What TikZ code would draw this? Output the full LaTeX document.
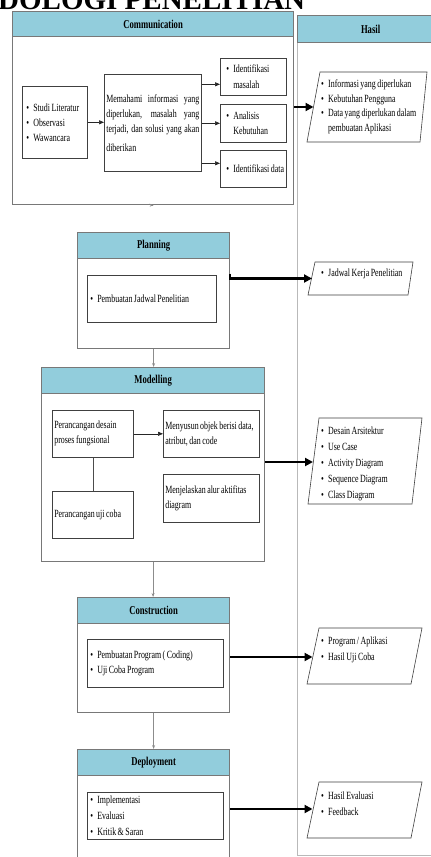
\documentclass[tikz,border=0pt]{standalone}
\usepackage{fontspec}
\setmainfont{Liberation Serif}[FakeStretch=0.72, WordSpace=0.75]
\newfontfamily\titlefont{Liberation Serif}
\usetikzlibrary{arrows.meta}
\definecolor{hdr}{RGB}{146,205,220}
\definecolor{bord}{RGB}{120,120,120}
\definecolor{hbord}{RGB}{185,185,185}
\newcommand\bl{\makebox[7pt][l]{\textbullet}}
\newcommand\ind{\hspace*{7pt}}
\begin{document}
\begin{tikzpicture}[x=1pt,y=-1pt,
  every node/.style={font=\fontsize{11}{15}\selectfont},
  phase/.style={draw=bord, line width=1.2pt, fill=white, anchor=north west, inner sep=0pt},
  head/.style={draw=bord, line width=1.2pt, fill=hdr, anchor=north west, inner sep=0pt, font=\fontsize{12}{13}\selectfont\bfseries},
  ibox/.style={draw=black!75, line width=0.6pt, anchor=north west, align=flush left, inner ysep=0pt},
  ptext/.style={anchor=west, align=flush left, inner sep=0pt, font=\fontsize{11}{14.5}\selectfont},
  pshape/.style={draw=black!75, line width=0.6pt},
  sarr/.style={draw=black!85, line width=0.6pt, -{Triangle[length=5pt,width=4pt]}},
  sline/.style={draw=black!70, line width=0.6pt},
  garr/.style={draw=black!45, line width=0.9pt, -{Stealth[length=4pt,width=3pt]}},
  tarr/.style={draw=black, line width=2.3pt, -{Triangle[length=8pt,width=8pt]}}
]
\path[use as bounding box] (0,0) rectangle (431,857);
\clip (0,0) rectangle (431,857);

% title (cropped at the top, as in the reference)
\node[anchor=base west, inner sep=0pt, font=\titlefont\fontsize{29}{30}\selectfont\bfseries] (title) at (-2,9.5) {DOLOGI PENELITIAN};

% Hasil column
\node[phase, draw=hbord, minimum width=146, minimum height=840] (hasil) at (297,15) {};
\node[head, minimum width=146, minimum height=27] (hasilh) at (297,15) {Hasil};

% Communication
\node[phase, minimum width=281, minimum height=193] (comm) at (12,11) {};
\node[head, minimum width=281, minimum height=25] (commh) at (12,11) {Communication};
\node[ibox, minimum width=65, minimum height=72, text width=57, inner xsep=4] (lb) at (22,86)
  {\bl Studi Literatur\\\bl Observasi\\\bl Wawancara};
\node[ibox, minimum width=97, minimum height=97, text width=93, inner xsep=2] (mb) at (104,74)
  {\makebox[93pt][s]{Memahami informasi yang}\\\makebox[93pt][s]{diperlukan, masalah yang}\\\makebox[93pt][s]{terjadi, dan solusi yang akan}\\[4pt]diberikan};
\node[ibox, minimum width=66, minimum height=37, text width=54, inner xsep=6] (r1) at (220,58)
  {\bl Identifikasi\\[1pt]\ind masalah};
\node[ibox, minimum width=66, minimum height=38, text width=54, inner xsep=6] (r2) at (220,104)
  {\bl Analisis\\\ind Kebutuhan};
\node[ibox, minimum width=66, minimum height=37, text width=54, inner xsep=6] (r3) at (220,150)
  {\mbox{\bl Identifikasi data}};
\draw[sarr] (lb.east) -- (lb.east -| mb.west);
\draw[sarr] ([yshift=-7.5pt]r1.west -| mb.east) -- ([yshift=-7.5pt]r1.west);
\draw[sarr] (r2.west -| mb.east) -- (r2.west);
\draw[sarr] ([yshift=5.5pt]r3.west -| mb.east) -- ([yshift=5.5pt]r3.west);

% Planning
\node[phase, minimum width=152, minimum height=116] (plan) at (77,232) {};
\node[head, minimum width=152, minimum height=26] (planh) at (77,232) {Planning};
\node[ibox, minimum width=129, minimum height=47, text width=123, inner xsep=3] (pi) at (87,275)
  {\bl Pembuatan Jadwal Penelitian};

% Modelling
\node[phase, minimum width=223, minimum height=194] (model) at (41,367) {};
\node[head, minimum width=223, minimum height=26] (modelh) at (41,367) {Modelling};
\node[ibox, minimum width=81, minimum height=47, text width=77, inner xsep=2] (m1) at (52,410)
  {Perancangan desain\\proses fungsional};
\node[ibox, minimum width=81, minimum height=47, text width=77, inner xsep=2] (m2) at (52,491)
  {Perancangan uji coba};
\node[ibox, minimum width=96, minimum height=47, text width=92, inner xsep=2] (m3) at (163,410)
  {\mbox{Menyusun objek berisi data,}\\atribut, dan code};
\node[ibox, minimum width=96, minimum height=48, text width=92, inner xsep=2] (m4) at (163,474)
  {Menjelaskan alur aktifitas\\diagram};
\draw[sarr] (m1.east) -- (m3.west);
\draw[sline] (m1.south) -- (m2.north);

% Construction
\node[phase, minimum width=152, minimum height=115] (cons) at (77,597) {};
\node[head, minimum width=152, minimum height=26] (consh) at (77,597) {Construction};
\node[ibox, minimum width=136, minimum height=48, text width=130, inner xsep=3] (ci) at (87,639)
  {\bl Pembuatan Program ( Coding)\\\bl Uji Coba Program};

% Deployment
\node[phase, minimum width=152, minimum height=140] (dep) at (77,749) {};
\node[head, minimum width=152, minimum height=26] (deph) at (77,749) {Deployment};
\node[ibox, minimum width=136, minimum height=47, text width=130, inner xsep=3, font=\fontsize{11}{16}\selectfont] (di) at (87,792)
  {\bl Implementasi\\\bl Evaluasi\\\bl Kritik \& Saran};

% phase connectors
\draw[garr] (comm.south) -- (comm.south -| planh.north);
\draw[garr] (plan.south) -- (plan.south |- modelh.north);
\draw[garr] (model.south) -- (model.south |- consh.north);
\draw[garr] (cons.south) -- (cons.south |- deph.north);

% Hasil items
\draw[pshape, fill=white] (320,72) -- (427,72) -- (420,142) -- (307,142) -- cycle;
\node[ptext] (h1) at (321,107)
  {\bl Informasi yang diperlukan\\\bl Kebutuhan Pengguna\\\bl Data yang diperlukan dalam\\\ind pembuatan Aplikasi};
\coordinate (h1in) at (313.5,107);

\draw[pshape, fill=white] (315,262) -- (413,262) -- (408,295) -- (308,295) -- cycle;
\node[ptext] (h2) at (321,274) {\bl Jadwal Kerja Penelitian};
\coordinate (h2in) at (312,278.5);

\draw[pshape, fill=white] (319,418) -- (422,418) -- (412,504) -- (308,504) -- cycle;
\node[ptext, font=\fontsize{11}{16}\selectfont] (h3) at (321,464)
  {\bl Desain Arsitektur\\\bl Use Case\\\bl Activity Diagram\\\bl Sequence Diagram\\\bl Class Diagram};
\coordinate (h3in) at (313,462);

\draw[pshape, fill=white] (319,628) -- (422,628) -- (411,684) -- (307,684) -- cycle;
\node[ptext, font=\fontsize{11}{16}\selectfont] (h4) at (321,650)
  {\bl Program / Aplikasi\\\bl Hasil Uji Coba};
\coordinate (h4in) at (312.5,657);

\draw[pshape, fill=white] (319,782) -- (422,782) -- (411,838) -- (307,838) -- cycle;
\node[ptext, font=\fontsize{11}{15.5}\selectfont] (h5) at (321,803.5)
  {\bl Hasil Evaluasi\\\bl Feedback};
\coordinate (h5in) at (312.5,809);

% thick arrows
\draw[tarr] (comm.east |- h1in) -- (h1in);
\draw[tarr] ([yshift=17pt]plan.east) |- (h2in);
\draw[tarr] (model.east |- h3in) -- (h3in);
\draw[tarr] (cons.east |- h4in) -- (h4in);
\draw[tarr] (dep.east |- h5in) -- (h5in);
\end{tikzpicture}
\end{document}
